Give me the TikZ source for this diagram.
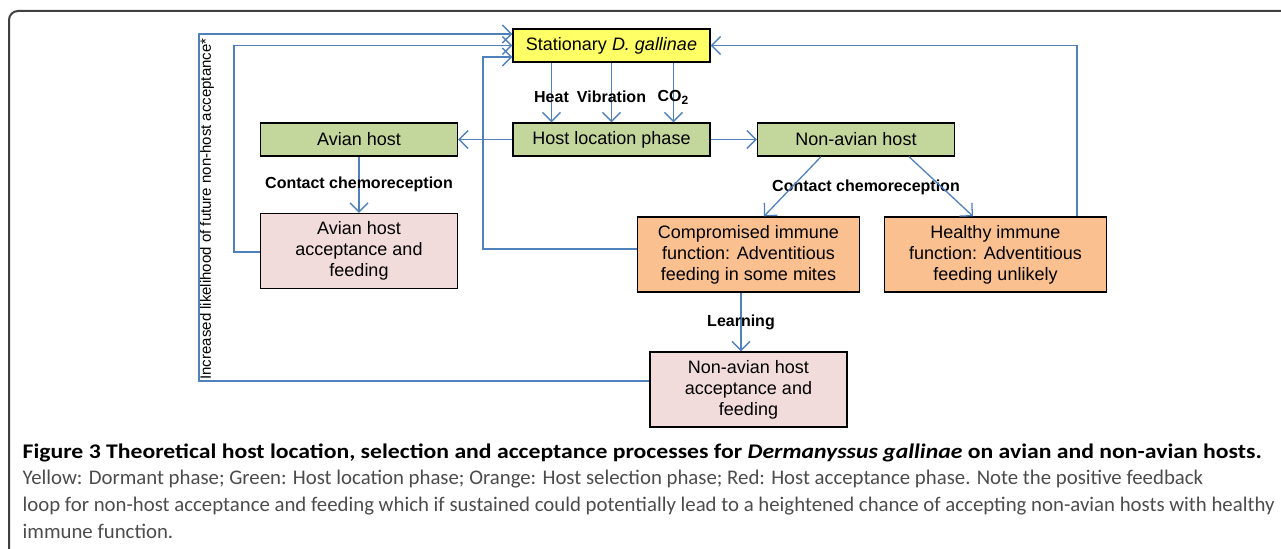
\documentclass[tikz,border=0pt]{standalone}
\usepackage{fontspec}
\setmainfont{Liberation Sans}
\newfontfamily\capfont{Carlito}
\newfontfamily\capboldfont{Carlito}[FakeStretch=1.14]
\usetikzlibrary{arrows.meta,positioning}

\definecolor{dormant}{RGB}{255,255,102}
\definecolor{locphase}{RGB}{195,214,155}
\definecolor{selphase}{RGB}{250,192,144}
\definecolor{accphase}{RGB}{242,220,219}
\definecolor{linkblue}{RGB}{79,129,189}
\definecolor{framegray}{RGB}{64,64,64}

\begin{document}
\begin{tikzpicture}[x=0.5pt,y=-0.5pt,->,>={Straight Barb[length=4.5pt,width=9pt]},
  linkblue,line width=0.65pt]
  \tikzstyle{box}=[draw=black,line width=0.7pt,text=black,inner sep=0pt,
    minimum width=98.5pt,minimum height=16.5pt,align=center,
    font=\fontsize{9}{10.5}\selectfont]
  \tikzstyle{tall}=[minimum height=37.5pt]
  \tikzstyle{wide}=[minimum width=111pt]
  \tikzstyle{lbl}=[text=black,font=\bfseries\fontsize{8}{9.6}\selectfont]
  \tikzstyle{captext}=[text=black!70,anchor=base west,inner sep=0pt,
    font=\capfont\fontsize{10.4}{12}\selectfont]

  \useasboundingbox (0,0) rectangle (1281,549);
  \draw[-,framegray,line width=1pt,rounded corners=4.5pt] (9,549) -- (9,11) -- (1281,11);

  \node[box,fill=dormant]          (S)  at (611.5,45.5)  {Stationary \textit{D. gallinae}};
  \node[box,fill=locphase]         (L)  at (611.5,139.5) {Host location phase};
  \node[box,fill=locphase]         (AH) at (359,139.5)   {Avian host};
  \node[box,fill=locphase]         (NH) at (856,139.5)   {Non-avian host};
  \node[box,tall,fill=accphase]    (AA) at (359,251)     {Avian host\\acceptance and\\feeding};
  \node[box,tall,wide,fill=selphase] (CI) at (748.5,254.5) {Compromised immune\\function: Adventitious\\feeding in some mites};
  \node[box,tall,wide,fill=selphase] (HI) at (995.5,254.5) {Healthy immune\\function: Adventitious\\feeding unlikely};
  \node[box,tall,fill=accphase]    (NA) at (748.5,389.5) {Non-avian host\\acceptance and\\feeding};

  \node[lbl] (chemo) at (866,187) {Contact chemoreception};
  \node[rotate=90,text=black,font=\fontsize{7.5}{9}\selectfont] (fbtext) at (207,209)
    {Increased likelihood of future non-host acceptance*};

  \coordinate (fb1) at (199,34);
  \coordinate (fb2) at (234,45.5);
  \coordinate (fb3) at (483,57);

  \path ([xshift=-30pt]S.south) edge node[lbl,pos=0.58] {Heat} ([xshift=-30pt]L.north)
        (S) edge node[lbl,pos=0.58] {Vibration} (L)
        ([xshift=31pt]S.south) edge node[lbl,pos=0.58] {CO\textsubscript{2}} ([xshift=31pt]L.north)
        (L) edge (AH)
        (L) edge (NH)
        (AH) edge node[lbl] {Contact chemoreception} (AA)
        ([xshift=-17.5pt]NH.south) edge ([xshift=7.75pt]CI.north)
        ([xshift=26.5pt]NH.south) edge ([xshift=-11.25pt]HI.north)
        ([xshift=-3.75pt]CI.south) edge node[lbl] {Learning} ([xshift=-3.75pt]NA.north);

  \draw ([yshift=4.25pt]NA.west) -| (fb1) -- ([yshift=5.75pt]S.west);
  \draw ([yshift=-0.5pt]AA.west) -| (fb2) -- (S.west);
  \draw ([yshift=2.75pt]CI.west) -| (fb3) -- ([yshift=-5.75pt]S.west);
  \draw ([xshift=40.75pt]HI.north) |- (S.east);

  \node[captext,text=black,font=\capboldfont\bfseries\fontsize{10.4}{12}\selectfont] (cap1) at (22,459)
    {Figure 3 Theoretical host location, selection and acceptance processes for \textit{Dermanyssus gallinae} on avian and non-avian hosts.};
  \node[captext] (cap2) at (22,485)
    {Yellow: Dormant phase; Green: Host location phase; Orange: Host selection phase; Red: Host acceptance phase. Note the positive feedback};
  \node[captext] (cap3) at (22,512)
    {loop for non-host acceptance and feeding which if sustained could potentially lead to a heightened chance of accepting non-avian hosts with healthy};
  \node[captext] (cap4) at (22,539) {immune function.};
\end{tikzpicture}
\end{document}
